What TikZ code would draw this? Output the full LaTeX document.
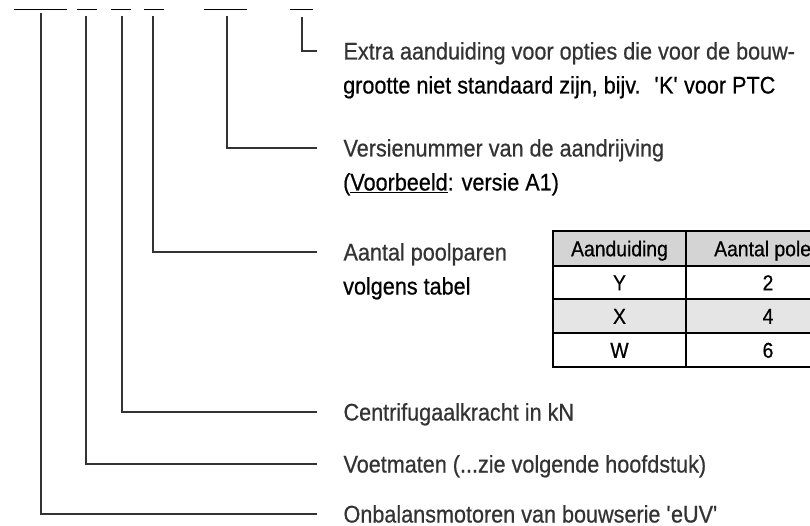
\documentclass[tikz,border=0pt]{standalone}
\usepackage{fontspec}
\setmainfont{Liberation Sans}[FakeStretch=0.9, FakeBold=0.6]
\usetikzlibrary{positioning}

\tikzset{
	slot/.style={line width=1.6pt},
	lead/.style={line width=1.1pt, black!80},
	txt/.style={inner sep=0pt, text height=17pt, text depth=0pt, font=\fontsize{24}{34}\selectfont},
	cell/.style={inner sep=0pt, text height=15.5pt, text depth=0pt, font=\fontsize{21.5}{24}\selectfont},
	tabline/.style={line width=2pt},
}
\definecolor{headfill}{gray}{0.83}
\definecolor{rowfill}{gray}{0.9}

\begin{document}
\begin{tikzpicture}[x=1pt, y=-1pt]
	\useasboundingbox (0,0) rectangle (810,526);
	\clip (0,0) rectangle (810,526);

	% Type code slots
	\foreach \a/\b in {14/67, 77/97, 111/131, 144/164, 204/247, 290/313}
		\draw[slot] (\a,9.5) -- (\b,9.5);

	\coordinate (s1) at (41,13);
	\coordinate (s2) at (86,16);
	\coordinate (s3) at (122,16);
	\coordinate (s4) at (153,16);
	\coordinate (s5) at (227,16);
	\coordinate (s6) at (302,17);

	\coordinate (e1) at (317,514);
	\coordinate (e2) at (317,464);
	\coordinate (e3) at (317,412);
	\coordinate (e4) at (317,252);
	\coordinate (e5) at (317,148);
	\coordinate (e6) at (317,51);

	% Draw the leaders
	\draw[lead] (s6) |- (e6) node[txt, right=26pt] (extra) {Extra aanduiding voor opties die voor de bouw-};
	\node[txt, anchor=base west] (extra2) at ([yshift=-34pt]extra.base west) {grootte niet standaard zijn, bijv.~ \textquotesingle K\textquotesingle\ voor PTC};
	\draw[lead] (s5) |- (e5) node[txt, right=26pt] (versie) {Versienummer van de aandrijving};
	\node[txt, anchor=base west] (versie2) at ([yshift=-34pt]versie.base west) {(\underline{Voorbeeld}: versie A1)};
	\draw[lead] (s4) |- (e4) node[txt, right=26pt] (polen) {Aantal poolparen};
	\node[txt, anchor=base west] (polen2) at ([yshift=-34pt]polen.base west) {volgens tabel};
	\draw[lead] (s3) |- (e3) node[txt, right=26pt] (kracht) {Centrifugaalkracht in kN};
	\draw[lead] (s2) |- (e2) node[txt, right=26pt] (voet) {Voetmaten (...zie volgende hoofdstuk)};
	\draw[lead] (s1) |- (e1) node[txt, right=26pt] (serie) {Onbalansmotoren van bouwserie \textquotesingle eUV\textquotesingle};

	% Pole table
	\fill[headfill] (553,231) rectangle (850,266);
	\fill[rowfill] (553,299) rectangle (850,333);
	\draw[tabline] (553,231) rectangle (850,367);
	\foreach \y in {266,299,333}
		\draw[tabline] (553,\y) -- (850,\y);
	\draw[tabline] (686,231) -- (686,367);
	\node[cell] (hcode) at (619.5,248.5) {Aanduiding};
	\node[cell] (hpoles) at (768,248.5) {Aantal polen};
	\foreach \c/\p/\y [count=\i] in {Y/2/282.5, X/4/316, W/6/350} {
		\node[cell] (c\i) at (619.5,\y) {\c};
		\node[cell] (p\i) at (768,\y) {\p};
	}
\end{tikzpicture}
\end{document}
